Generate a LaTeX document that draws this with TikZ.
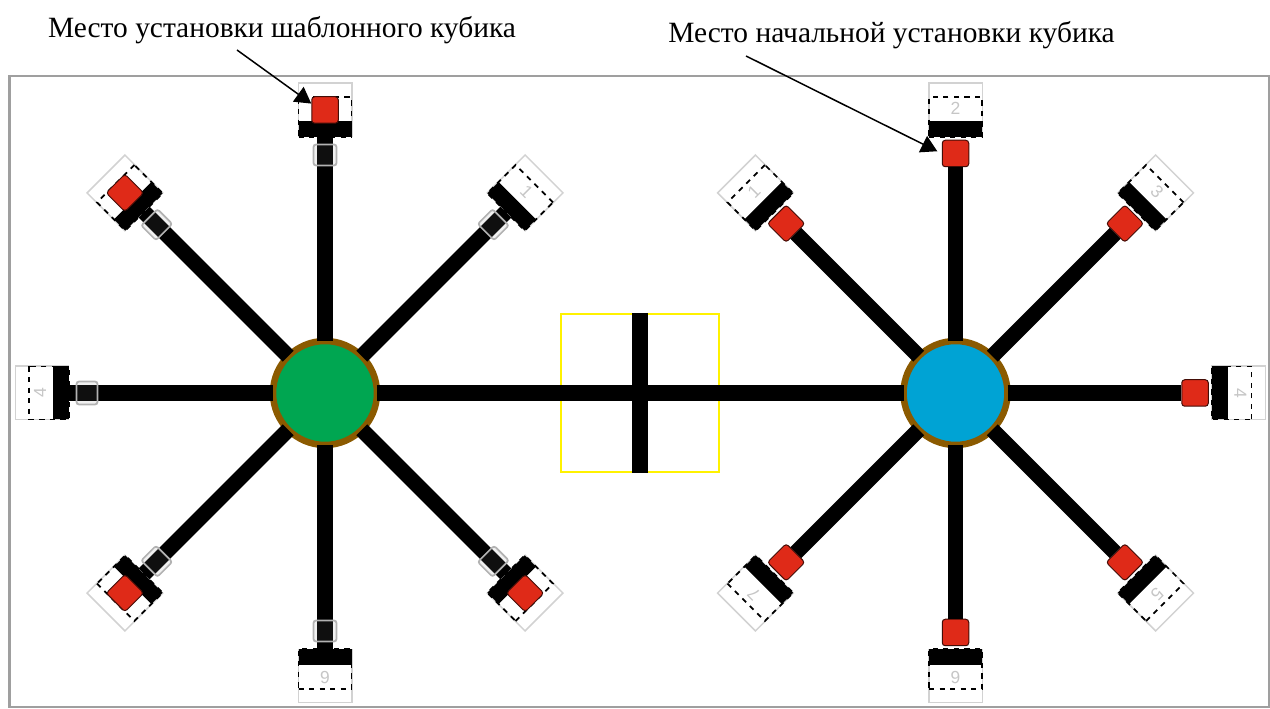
\documentclass[tikz,border=0pt]{standalone}
\usepackage{fontspec}
\setmainfont{Liberation Serif}
\newfontfamily\digitfont{Liberation Sans}
\usetikzlibrary{arrows.meta,calc}
\definecolor{hubring}{HTML}{8B5A00}
\definecolor{hubgreen}{HTML}{00A651}
\definecolor{hubblue}{HTML}{00A3D4}
\definecolor{cubered}{HTML}{DF2A18}
\begin{document}
\begin{tikzpicture}[
    x=0.02cm, y=0.02cm,
    hub/.style={circle, draw=hubring, fill=#1, line width=0.13cm, minimum size=2.08cm, inner sep=0pt, outer sep=0pt},
    arm/.style={line width=0.31cm, black},
    yard/.style={rectangle, draw=yellow, line width=0.05cm, minimum size=3.16cm, inner sep=0pt},
    slotbox/.style={rectangle, draw=gray!35, line width=0.03cm, minimum size=1.07cm, inner sep=0pt, outer sep=0pt},
    stopbar/.style={rectangle, fill=black, minimum width=1.06cm, minimum height=0.32cm, inner sep=0pt},
    dashbox/.style={rectangle, draw=black, dashed, line width=0.035cm, minimum width=1.06cm, minimum height=0.8cm, inner sep=0pt},
    sleeve/.style={rectangle, draw=gray!60, fill=gray, fill opacity=0.12, line width=0.035cm, rounded corners=0.05cm, minimum width=0.46cm, minimum height=0.42cm, inner sep=0pt},
    cube/.style={rectangle, draw=black!70!cubered, fill=cubered, line width=0.02cm, rounded corners=0.06cm, minimum size=0.53cm, inner sep=0pt},
    slotnum/.style={text=gray!45, font=\digitfont\fontsize{10}{12}\selectfont, inner sep=0pt},
    caption/.style={font=\fontsize{16.75}{20}\selectfont, inner sep=0pt},
    pointer/.style={-{Triangle[length=0.32cm,width=0.36cm]}, line width=0.03cm}
]
    \useasboundingbox (0,0) rectangle (1270,709);
    \draw[gray!75, line width=0.05cm] (9.5,633) rectangle (1269,2);

    \node[yard] (yardC) at (640,316) {};
    \node[hub=hubgreen] (hubL) at (325,316) {};
    \node[hub=hubblue] (hubR) at (955.5,316) {};
    \draw[arm] (hubL) -- (hubR);
    \draw[arm] (yardC.north) -- (yardC.south);

    % left hub
    \foreach \ang in {135,90,45,180,225,270,315}{
        \node[slotbox, rotate=\ang-90] (slotL\ang) at ($(hubL)+(\ang:283)$) {};
        \node[stopbar, rotate=\ang-90] (barL\ang) at ($(hubL)+(\ang:264)$) {};
        \node[dashbox, rotate=\ang-90] (dashL\ang) at ($(hubL)+(\ang:276)$) {};
        \draw[arm] (hubL) -- (barL\ang);
        \node[sleeve, rotate=\ang-90] (sleeveL\ang) at ($(hubL)+(\ang:238)$) {};
    }
    \foreach \ang in {135,90,225,315}
        \node[cube, rotate=\ang-90] (cubeL\ang) at ($(hubL)+(\ang:283)$) {};
    \foreach \ang/\num in {45/1,180/4,270/6}
        \node[slotnum, rotate=\ang-90] (numL\ang) at ($(hubL)+(\ang:285)$) {\num};

    % right hub
    \foreach \ang/\num in {135/1,90/2,45/3,0/4,315/5,270/6,225/7}{
        \node[slotbox, rotate=\ang-90] (slotR\ang) at ($(hubR)+(\ang:283)$) {};
        \node[stopbar, rotate=\ang-90] (barR\ang) at ($(hubR)+(\ang:264)$) {};
        \node[dashbox, rotate=\ang-90] (dashR\ang) at ($(hubR)+(\ang:276)$) {};
        \node[cube, rotate=\ang-90] (cubeR\ang) at ($(hubR)+(\ang:239.5)$) {};
        \draw[arm] (hubR) -- (cubeR\ang);
        \node[slotnum, rotate=\ang-90] (numR\ang) at ($(hubR)+(\ang:285)$) {\num};
    }

    \node[caption] (capL) at (282,678.5) {Место установки шаблонного кубика};
    \node[caption] (capR) at (891.5,673.5) {Место начальной установки кубика};
    \coordinate (tailL) at (237,659);
    \coordinate (tailR) at (746,653);
    \draw[pointer] (tailL) -- (cubeL90.155);
    \draw[pointer, shorten >=0.1cm] (tailR) -- (cubeR90.west);
\end{tikzpicture}
\end{document}
